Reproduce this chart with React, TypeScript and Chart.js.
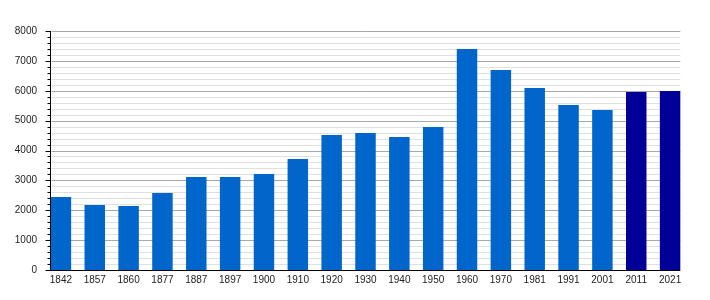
import React, { useEffect, useRef } from "react";
import { Chart, registerables } from "chart.js";

Chart.register(...registerables);

const years = ["1842","1857","1860","1877","1887","1897","1900","1910","1920","1930","1940","1950","1960","1970","1981","1991","2001","2011","2021"];
const population = [2443,2175,2142,2577,3113,3113,3213,3715,4518,4585,4452,4786,7397,6694,6092,5523,5355,5958,5991];
const barColors = ["#0066CC","#0066CC","#0066CC","#0066CC","#0066CC","#0066CC","#0066CC","#0066CC","#0066CC","#0066CC","#0066CC","#0066CC","#0066CC","#0066CC","#0066CC","#0066CC","#0066CC","#000099","#000099"];
const yMax = 8000;
const majorStep = 1000;
const minorStep = 200;

const gridPlugin = {
  id: "customGrid",
  beforeDatasetsDraw(chart: any) {
    const { ctx, scales } = chart;
    const y = scales.y;
    const meta = chart.getDatasetMeta(0);
    const first = meta.data[0];
    const last = meta.data[meta.data.length - 1];
    const x0 = Math.round(first.x - first.width / 2) + 0.5;
    const x1 = last.x + last.width / 2;
    ctx.save();
    ctx.lineWidth = 1;
    for (let v = minorStep; v <= yMax; v += minorStep) {
      const py = Math.round(y.getPixelForValue(v)) + 0.5;
      ctx.strokeStyle = v % majorStep === 0 ? "#a8a8a8" : "#e0e0e0";
      ctx.beginPath();
      ctx.moveTo(x0, py);
      ctx.lineTo(x1, py);
      ctx.stroke();
    }
    ctx.restore();
  },
  afterDatasetsDraw(chart: any) {
    const { ctx, scales } = chart;
    const y = scales.y;
    const meta = chart.getDatasetMeta(0);
    const first = meta.data[0];
    const last = meta.data[meta.data.length - 1];
    const x0 = Math.round(first.x - first.width / 2) - 0.5;
    const x1 = last.x + last.width / 2;
    const yTop = y.getPixelForValue(yMax);
    const yBot = Math.round(y.getPixelForValue(0)) + 0.5;
    ctx.save();
    ctx.strokeStyle = "#000";
    ctx.lineWidth = 1;
    ctx.beginPath();
    ctx.moveTo(x0, yTop);
    ctx.lineTo(x0, yBot);
    ctx.moveTo(x0 - 5, yBot);
    ctx.lineTo(x1, yBot);
    for (let v = minorStep; v <= yMax; v += minorStep) {
      const py = Math.round(y.getPixelForValue(v)) + 0.5;
      const len = v % majorStep === 0 ? 5 : 3;
      ctx.moveTo(x0 - len, py);
      ctx.lineTo(x0, py);
    }
    ctx.stroke();
    ctx.restore();
  },
};

export default function App() {
  const ref = useRef<HTMLCanvasElement>(null);
  useEffect(() => {
    document.body.style.margin = "0";
    const font = { family: "'Liberation Sans', Arial, sans-serif", size: 10 };
    const chart = new Chart(ref.current as HTMLCanvasElement, {
      type: "bar",
      data: {
        labels: years,
        datasets: [
          {
            data: population,
            backgroundColor: barColors,
            borderWidth: 0,
            barPercentage: 0.605,
            categoryPercentage: 1,
          },
        ],
      },
      options: {
        responsive: false,
        animation: false,
        layout: { padding: { top: 31, right: 23, bottom: 0, left: 0 } },
        plugins: { legend: { display: false }, tooltip: { enabled: false } },
        scales: {
          x: {
            offset: true,
            grid: { display: false, drawTicks: false },
            border: { display: false },
            ticks: { font, color: "#222", padding: 4, maxRotation: 0, autoSkip: false },
            afterFit: (s: any) => { s.height = 30; },
          },
          y: {
            min: 0,
            max: yMax,
            grid: { display: false, drawTicks: false },
            border: { display: false },
            ticks: {
              stepSize: majorStep,
              font,
              color: "#222",
              padding: 7,
              callback: (v: any) => String(v),
            },
            afterFit: (s: any) => { s.width = 44; },
          },
        },
      },
      plugins: [gridPlugin],
    });
    return () => chart.destroy();
  }, []);
  return (
    <div style={{ width: 710, height: 300, background: "#fff" }}>
      <canvas ref={ref} width={710} height={300} />
    </div>
  );
}
